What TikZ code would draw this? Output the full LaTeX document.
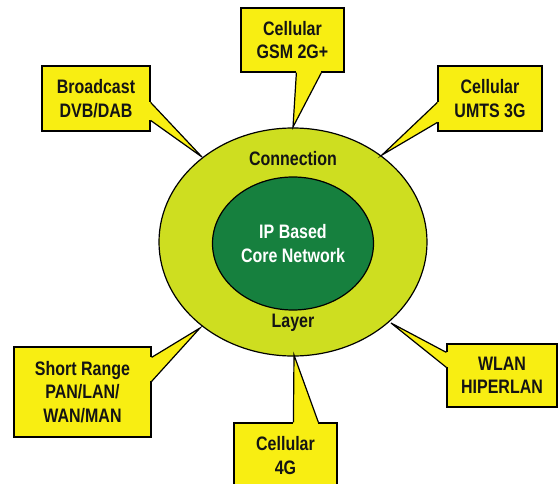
\documentclass[tikz,border=0pt]{standalone}
\usepackage{fontspec}
\usetikzlibrary{shapes.geometric,calc}
\newfontfamily\lblfont{Liberation Sans}[FakeStretch=0.82]
\definecolor{boxyellow}{RGB}{248,238,18}
\definecolor{ringgreen}{RGB}{206,222,32}
\definecolor{coregreen}{RGB}{22,128,62}
\definecolor{inkgray}{RGB}{20,20,20}
\newcommand\mkptr[3]{%
  \fill[boxyellow] (#1) -- (#2) -- (#3) -- cycle;
  \draw[boxyellow, line width=2.6pt] (#1) -- (#3);
  \draw[ptr] (#1) -- (#2) -- (#3);}
\begin{document}
\begin{tikzpicture}[x=1pt,y=-1pt,
  lbl/.style={font=\lblfont\bfseries\fontsize{19.5}{23.5}\selectfont, align=center, text=inkgray},
  callbox/.style={lbl, draw=black, line width=1.2pt, fill=boxyellow, inner sep=0pt},
  ptr/.style={draw=black, line width=1.2pt, line join=miter}]
\useasboundingbox (0,0) rectangle (558,483);
\clip (0,0) rectangle (558,483);
% rings
\node[ellipse, draw=black, line width=1.2pt, fill=ringgreen, minimum width=268pt, minimum height=228pt, inner sep=0pt] (outer) at (293,242) {};
\node[ellipse, draw=black, line width=1.2pt, fill=coregreen, minimum width=161pt, minimum height=133pt, inner sep=0pt, lbl, text=white] (core) at (293,243.5) {IP Based\\Core Network};
\node[lbl] (conn) at (293,159) {Connection};
\node[lbl] (layer) at (293,323) {Layer};
% boxes
\node[callbox, minimum width=108pt, minimum height=65pt] (bc) at (96,98.5) {Broadcast\\DVB/DAB};
\node[callbox, minimum width=103pt, minimum height=64pt] (gsm) at (292.5,40) {Cellular\\GSM 2G+};
\node[callbox, minimum width=104pt, minimum height=65pt] (umts) at (490,98.5) {Cellular\\UMTS 3G};
\node[callbox, minimum width=137pt, minimum height=90pt] (sr) at (82.5,392) {Short Range\\PAN/LAN/\\WAN/MAN};
\node[callbox, minimum width=103pt, minimum height=65pt] (gfour) at (285.5,455.5) {Cellular\\4G};
\node[callbox, minimum width=110pt, minimum height=63pt] (wlan) at (502,375.5) {WLAN\\HIPERLAN};
% pointer tips on the ring
\coordinate (bcT) at (202,157);
\coordinate (gsmT) at (293,127);
\coordinate (umtsT) at (382,155);
\coordinate (srT) at (200,328);
\coordinate (gfourT) at (294,355);
\coordinate (wlanT) at (391,323);
% pointer bases
\coordinate (bcA) at ($(bc.north east)+(0,37)$);
\coordinate (bcB) at ($(bc.north east)+(0,55)$);
\coordinate (gsmA) at ($(gsm.south west)+(56,0)$);
\coordinate (gsmB) at ($(gsm.south west)+(81,0)$);
\coordinate (umtsA) at ($(umts.north west)+(0,37)$);
\coordinate (umtsB) at ($(umts.north west)+(0,57)$);
\coordinate (srA) at ($(sr.north east)+(0,11)$);
\coordinate (srB) at ($(sr.north east)+(0,35)$);
\coordinate (gfourA) at ($(gfour.north west)+(60,0)$);
\coordinate (gfourB) at ($(gfour.north west)+(85,0)$);
\coordinate (wlanA) at ($(wlan.north west)+(0,9)$);
\coordinate (wlanB) at ($(wlan.north west)+(0,24)$);
\mkptr{bcA}{bcT}{bcB}
\mkptr{gsmA}{gsmT}{gsmB}
\mkptr{umtsA}{umtsT}{umtsB}
\mkptr{srA}{srT}{srB}
\mkptr{gfourA}{gfourT}{gfourB}
\mkptr{wlanA}{wlanT}{wlanB}
\end{tikzpicture}
\end{document}
